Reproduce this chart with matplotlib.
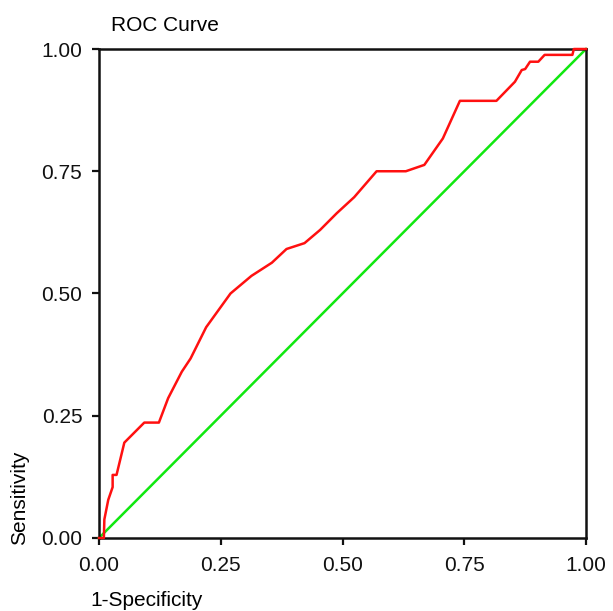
#ROC curve redrawn from the picture
import numpy as np
import matplotlib
matplotlib.use('Agg')
import matplotlib.pyplot as plt

plt.rcParams['font.family'] = ['Liberation Sans', 'DejaVu Sans']

# 1-specificity / sensitivity
fpr = [0.0, 0.002, 0.01, 0.011, 0.019, 0.028, 0.028, 0.036, 0.052, 0.093, 0.123,
       0.142, 0.17, 0.188, 0.22, 0.27, 0.313, 0.355, 0.385, 0.422, 0.454, 0.488,
       0.524, 0.57, 0.63, 0.668, 0.706, 0.741, 0.816, 0.854, 0.868, 0.875, 0.885,
       0.902, 0.915, 0.972, 0.975, 1.0]
tpr = [0.0, 0.0, 0.0, 0.038, 0.078, 0.104, 0.129, 0.129, 0.195, 0.236, 0.236,
       0.286, 0.34, 0.367, 0.431, 0.50, 0.536, 0.563, 0.591, 0.603, 0.63, 0.664,
       0.697, 0.75, 0.75, 0.763, 0.817, 0.894, 0.894, 0.933, 0.957, 0.959, 0.974,
       0.974, 0.988, 0.988, 1.0, 1.0]
ref = [0.0, 1.0]	#chance line
ticks = [0.0, 0.25, 0.5, 0.75, 1.0]
tick_labels = ['0.00', '0.25', '0.50', '0.75', '1.00']

fig = plt.figure(figsize=(6.13, 6.11), dpi=100)
ax = fig.add_axes([0.1615, 0.1195, 0.7945, 0.8003])
ax.plot(ref, ref, color='#10e810', lw=1.8, clip_on=False, zorder=2)
ax.plot(fpr, tpr, color='#ff1010', lw=1.8, clip_on=False, zorder=3)

ax.set_xlim(0, 1)
ax.set_ylim(0, 1)
ax.set_xticks(ticks)
ax.set_xticklabels(tick_labels)
ax.set_yticks(ticks)
ax.set_yticklabels(tick_labels)
for s in ax.spines.values():
	s.set_linewidth(1.8)
	s.set_color('#111111')
ax.tick_params(axis='both', direction='out', length=5, width=1.6, labelsize=15,
               colors='#111111')
ax.tick_params(axis='x', pad=8)
ax.tick_params(axis='y', pad=7)

fig.text(111/613, 1-31/611, 'ROC Curve', fontsize=15, ha='left', va='baseline')
fig.text(90/613, 1-606/611, '1-Specificity', fontsize=15, ha='left', va='baseline')
fig.text(29/613, 1-545/611, 'Sensitivity', fontsize=15, rotation=90, ha='right', va='bottom')

fig.savefig('out.png', dpi=100)
